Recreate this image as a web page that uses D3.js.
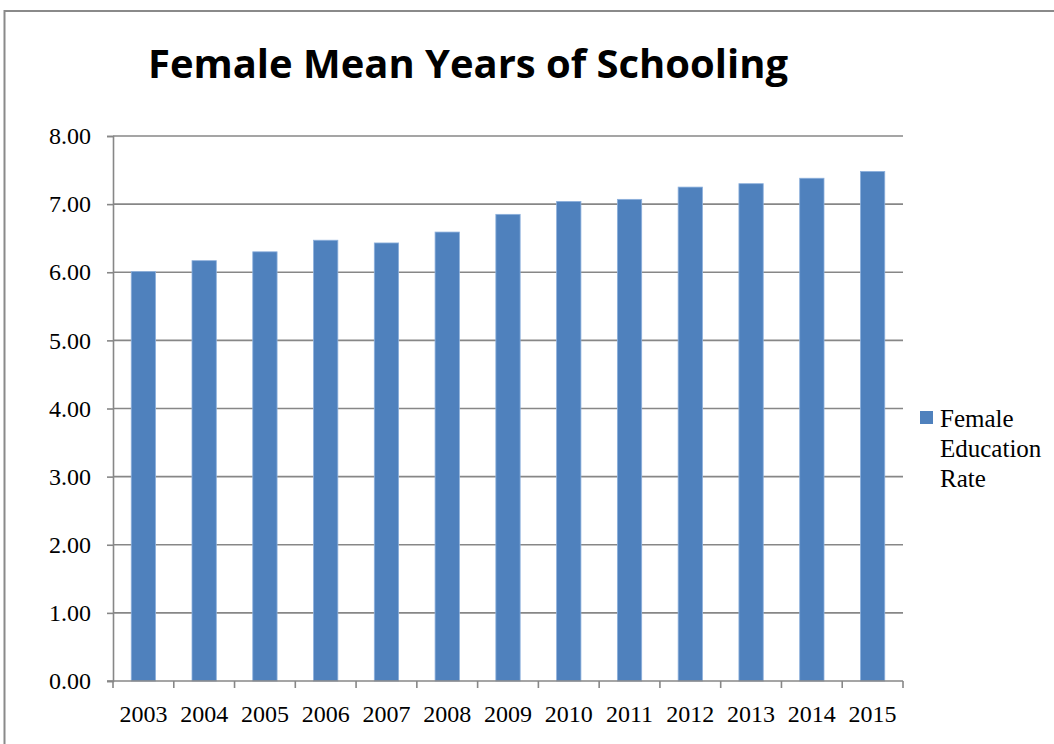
<!DOCTYPE html>
<html>
<head>
  <meta charset="utf-8">
  <title>Female Mean Years of Schooling</title>
  <script src="https://d3js.org/d3.v7.min.js"></script>
  <style>
    body { margin: 0; background: #fff; }
    .axis text { font: 24px "Liberation Serif", serif; fill: #000; }
    .grid line { stroke: #878787; stroke-width: 1.6px; }
  </style>
</head>
<body>
  <script>
    const years = ["2003", "2004", "2005", "2006", "2007", "2008", "2009",
                   "2010", "2011", "2012", "2013", "2014", "2015"];
    const femaleRate = [6.01, 6.17, 6.30, 6.47, 6.43, 6.59, 6.85,
                        7.04, 7.07, 7.25, 7.30, 7.38, 7.48];
    const yTicks = [0, 1, 2, 3, 4, 5, 6, 7, 8];

    const width = 1054;
    const height = 744;
    const plot = { left: 113, right: 903, top: 136, bottom: 681 };

    const svg = d3.select("body").append("svg")
      .attr("width", width)
      .attr("height", height);

    // outer frame
    svg.append("rect")
      .attr("x", 4.5).attr("y", 11)
      .attr("width", 1060).attr("height", 760)
      .attr("fill", "none")
      .attr("stroke", "#8a8a8a")
      .attr("stroke-width", 2);

    svg.append("text")
      .attr("x", 148).attr("y", 78)
      .attr("textLength", 640)
      .attr("lengthAdjust", "spacingAndGlyphs")
      .style("font", "bold 39px 'Open Sans', 'Liberation Sans', sans-serif")
      .text("Female Mean Years of Schooling");

    const x = d3.scaleBand()
      .domain(years)
      .range([plot.left, plot.right])
      .paddingInner(0.6)
      .paddingOuter(0.3);

    const y = d3.scaleLinear()
      .domain([0, 8])
      .range([plot.bottom, plot.top]);

    // gridlines
    svg.append("g")
      .attr("class", "grid")
      .selectAll("line")
      .data(yTicks.slice(1))
      .join("line")
      .attr("x1", plot.left).attr("x2", plot.right)
      .attr("y1", d => y(d)).attr("y2", d => y(d));

    // bars
    svg.append("g")
      .selectAll("rect")
      .data(years)
      .join("rect")
      .attr("x", d => x(d))
      .attr("y", (d, i) => y(femaleRate[i]))
      .attr("width", x.bandwidth())
      .attr("height", (d, i) => plot.bottom - y(femaleRate[i]))
      .attr("fill", "#4f81bd")
      .attr("stroke", "#8db0dc")
      .attr("stroke-width", 0.8);

    // y axis
    const yAxis = svg.append("g")
      .attr("class", "axis")
      .attr("transform", `translate(${plot.left},0)`)
      .call(d3.axisLeft(y).tickValues(yTicks).tickFormat(d3.format(".2f"))
        .tickSize(6).tickPadding(16));
    yAxis.select(".domain").attr("stroke", "#878787").attr("stroke-width", 1.6);
    yAxis.selectAll(".tick line").attr("stroke", "#878787").attr("stroke-width", 1.6);

    // x axis with ticks at category boundaries
    const xAxis = svg.append("g")
      .attr("class", "axis")
      .attr("transform", `translate(0,${plot.bottom})`);
    xAxis.append("line")
      .attr("x1", plot.left - 6).attr("x2", plot.right)
      .attr("stroke", "#878787").attr("stroke-width", 1.6);
    const bounds = d3.range(years.length + 1).map(i => plot.left + i * (plot.right - plot.left) / years.length);
    xAxis.selectAll(".btick")
      .data(bounds)
      .join("line")
      .attr("x1", d => d).attr("x2", d => d)
      .attr("y1", 0).attr("y2", 7)
      .attr("stroke", "#878787").attr("stroke-width", 1.6);
    xAxis.selectAll(".lbl")
      .data(years)
      .join("text")
      .attr("x", d => x(d) + x.bandwidth() / 2)
      .attr("y", 41)
      .attr("text-anchor", "middle")
      .text(d => d);

    // legend
    const legend = svg.append("g").attr("transform", "translate(920,411)");
    legend.append("rect")
      .attr("width", 13).attr("height", 13)
      .attr("fill", "#4f81bd");
    legend.selectAll("text")
      .data(["Female", "Education", "Rate"])
      .join("text")
      .attr("x", 20)
      .attr("y", (d, i) => 16 + i * 30)
      .style("font", "25px 'Liberation Serif', serif")
      .text(d => d);
  </script>
</body>
</html>
